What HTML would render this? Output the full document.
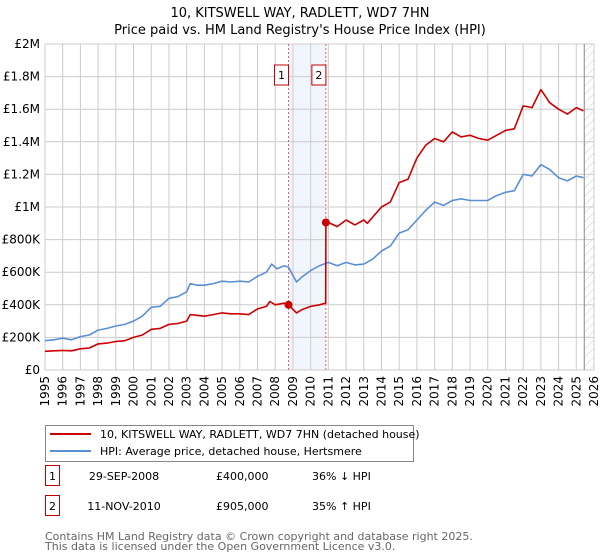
<!DOCTYPE html>
<html><head><meta charset="utf-8"><style>
body{margin:0;background:#fff;font-family:"Liberation Sans","DejaVu Sans",sans-serif;}
#wrap{position:relative;width:600px;height:560px;overflow:hidden;}
svg text{font-family:"DejaVu Sans","Liberation Sans",sans-serif;}
</style></head><body>
<div id="wrap">
<svg id="chart" width="600" height="560"></svg>
</div>
<script>
const years=[1995,1996,1997,1998,1999,2000,2001,2002,2003,2004,2005,2006,2007,2008,2009,2010,2011,2012,2013,2014,2015,2016,2017,2018,2019,2020,2021,2022,2023,2024,2025,2026];
const yTicks=[0,200,400,600,800,1000,1200,1400,1600,1800,2000];
const yTickLabels=["£0","£200K","£400K","£600K","£800K","£1M","£1.2M","£1.4M","£1.6M","£1.8M","£2M"];
const hpiT=[1995,1995.5,1996,1996.5,1997,1997.5,1998,1998.5,1999,1999.5,2000,2000.5,2001,2001.5,2002,2002.5,2003,2003.2,2003.6,2004,2004.5,2005,2005.5,2006,2006.5,2007,2007.5,2007.8,2008.1,2008.5,2008.75,2009.2,2009.5,2010,2010.5,2011,2011.5,2012,2012.5,2013,2013.5,2014,2014.5,2015,2015.5,2016,2016.5,2017,2017.5,2018,2018.5,2019,2019.5,2020,2020.5,2021,2021.5,2022,2022.5,2023,2023.5,2024,2024.5,2025,2025.4];
const hpiV=[180,185,195,185,205,215,245,255,270,280,300,330,385,390,440,450,480,530,520,520,530,545,540,545,540,575,600,650,620,640,630,540,570,610,640,660,640,660,645,650,680,730,760,840,860,920,980,1030,1010,1040,1050,1040,1040,1040,1070,1090,1100,1200,1190,1260,1230,1180,1160,1190,1180];
const paidT=[1995,1995.5,1996,1996.5,1997,1997.5,1998,1998.5,1999,1999.5,2000,2000.5,2001,2001.5,2002,2002.5,2003,2003.2,2003.6,2004,2004.5,2005,2005.5,2006,2006.5,2007,2007.5,2007.7,2008,2008.5,2008.75,2009.2,2009.5,2010,2010.5,2010.85,2010.86,2011,2011.5,2012,2012.5,2013,2013.2,2014,2014.5,2015,2015.5,2016,2016.5,2017,2017.5,2018,2018.5,2019,2019.5,2020,2020.5,2021,2021.5,2022,2022.5,2023,2023.5,2024,2024.5,2025,2025.4];
const paidV=[115,118,120,118,130,135,160,165,175,180,200,215,250,255,280,285,300,340,335,330,340,350,345,345,340,375,390,420,400,410,400,350,370,390,400,410,905,905,880,920,890,920,900,1000,1030,1150,1170,1300,1380,1420,1400,1460,1430,1440,1420,1410,1440,1470,1480,1620,1610,1720,1640,1600,1570,1610,1590];
const saleT=[2008.75,2010.86];
const saleV=[400,905];
const saleLabels=["1","2"];

const NS="http://www.w3.org/2000/svg";
const svg=document.getElementById('chart');
const x0=45,x1=594,yTop=44,yBot=370;
const X=t=>x0+(t-1995)*(x1-x0)/31;
const Y=v=>yBot-v*(yBot-yTop)/2000;
function mk(tag,attrs,parent){const e=document.createElementNS(NS,tag);for(const k in attrs)e.setAttribute(k,attrs[k]);(parent||svg).appendChild(e);return e;}
function txt(s,attrs){const e=mk('text',attrs);e.textContent=s;return e;}

let t=txt("10, KITSWELL WAY, RADLETT, WD7 7HN",{x:300,y:17,'text-anchor':'middle','font-size':13,fill:'#000'});

t=txt("Price paid vs. HM Land Registry's House Price Index (HPI)",{x:300,y:34,'text-anchor':'middle','font-size':13,fill:'#000'});


// shaded region
let r=mk('rect',{x:X(saleT[0]),y:yTop,width:X(saleT[1])-X(saleT[0]),height:yBot-yTop,fill:'#eef2fb',opacity:0.8});

// hatch
const defs=mk('defs',{});
const pat=mk('pattern',{id:'hatch',width:6,height:6,patternUnits:'userSpaceOnUse',patternTransform:'rotate(45)'},defs);
mk('line',{x1:0,y1:0,x2:0,y2:6,stroke:'#ccc','stroke-width':1},pat);
r=mk('rect',{x:X(2025.45),y:yTop,width:x1-X(2025.45),height:yBot-yTop,fill:'url(#hatch)'});


// grid
years.forEach(yr=>{const l=mk('line',{x1:X(yr),x2:X(yr),y1:yTop,y2:yBot,stroke:'#cccccc','stroke-width':1});

const tx=txt(String(yr),{transform:`translate(${X(yr)+4},${yBot+6}) rotate(-90)`,'text-anchor':'end','font-size':12,fill:'#000'});
});
yTicks.forEach((v,i)=>{const l=mk('line',{x1:x0,x2:x1,y1:Y(v),y2:Y(v),stroke:'#cccccc','stroke-width':1});

const tx=txt(yTickLabels[i],{x:40,y:Y(v)+4,'text-anchor':'end','font-size':12,fill:'#000'});
});
let b=mk('line',{x1:X(2025.45),x2:X(2025.45),y1:yTop,y2:yBot,stroke:'#888','stroke-width':1});


// sale vlines + markers
saleT.forEach((s,i)=>{const l=mk('line',{x1:X(s),x2:X(s),y1:yTop,y2:yBot,stroke:'#e06666','stroke-width':1,'stroke-dasharray':'2,2'});

const g=mk('g',{});
mk('rect',{x:X(s)-14,y:65,width:14,height:20,fill:'#fff',stroke:'#c00000','stroke-width':1},g);
const tt=mk('text',{x:X(s)-7,y:79,'text-anchor':'middle','font-size':11,fill:'#000'},g);tt.textContent=saleLabels[i];});

function path(T,V,color,name){const d=T.map((tt,i)=>(i?'L':'M')+X(tt).toFixed(1)+','+Y(V[i]).toFixed(1)).join('');
const p=mk('path',{d,fill:'none',stroke:color,'stroke-width':1.6,'stroke-linejoin':'round'});
}
path(hpiT,hpiV,'#5b8fd4','hpi-line');
path(paidT,paidV,'#cc0000','price-paid-line');
saleT.forEach((s,i)=>{const c=mk('circle',{cx:X(s),cy:Y(saleV[i]),r:4,fill:'#cc0000'});
});

// legend
const lg=mk('g',{});
mk('rect',{x:45.5,y:425.5,width:368,height:36,fill:'#fff',stroke:'#888','stroke-width':1},lg);
mk('line',{x1:50,x2:91,y1:434,y2:434,stroke:'#cc0000','stroke-width':2},lg);
mk('line',{x1:50,x2:91,y1:451,y2:451,stroke:'#5b8fd4','stroke-width':2},lg);
let e=mk('text',{x:100,y:438,'font-size':11,fill:'#000'},lg);e.textContent="10, KITSWELL WAY, RADLETT, WD7 7HN (detached house)";

e=mk('text',{x:100,y:455,'font-size':11,fill:'#000'},lg);e.textContent="HPI: Average price, detached house, Hertsmere";


// table
const rows=[["1","29-SEP-2008","£400,000","36% ↓ HPI",483],["2","11-NOV-2010","£905,000","35% ↑ HPI",513]];
rows.forEach(rw=>{const g=mk('g',{});
mk('rect',{x:45.5,y:rw[4]-17.5,width:14,height:20,fill:'#fff',stroke:'#c00000','stroke-width':1},g);
let a=mk('text',{x:52.5,y:rw[4]-3,'text-anchor':'middle','font-size':11},g);a.textContent=rw[0];
a=mk('text',{x:124,y:rw[4]-3,'text-anchor':'middle','font-size':11},g);a.textContent=rw[1];
a=mk('text',{x:216,y:rw[4]-3,'font-size':11},g);a.textContent=rw[2];
a=mk('text',{x:312,y:rw[4]-3,'font-size':11},g);a.textContent=rw[3];});
e=txt("Contains HM Land Registry data © Crown copyright and database right 2025.",{x:45,y:540,'font-size':11,fill:'#666'});

e=txt("This data is licensed under the Open Government Licence v3.0.",{x:45,y:550,'font-size':11,fill:'#666'});

</script>
</body></html>
